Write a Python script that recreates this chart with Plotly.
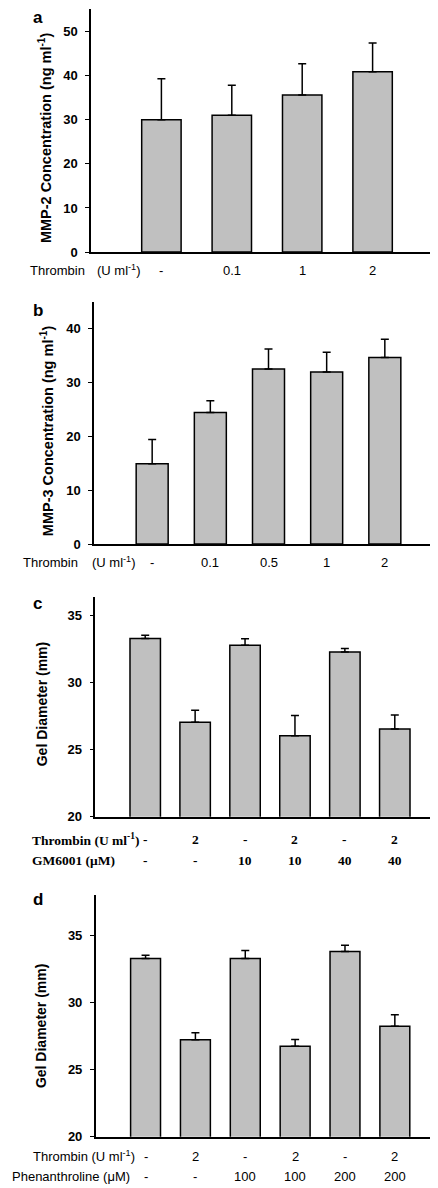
import plotly.graph_objects as go

# ---- data ----
a_labels = ["-", "0.1", "1", "2"]
a_values = [30.0, 31.0, 35.6, 40.9]
a_errors = [9.3, 6.8, 7.1, 6.5]

b_labels = ["-", "0.1", "0.5", "1", "2"]
b_values = [14.9, 24.4, 32.5, 31.9, 34.6]
b_errors = [4.5, 2.2, 3.7, 3.7, 3.4]

c_thrombin = ["-", "2", "-", "2", "-", "2"]
c_gm6001 = ["-", "-", "10", "10", "40", "40"]
c_values = [33.3, 27.05, 32.8, 26.05, 32.3, 26.55]
c_errors = [0.25, 0.9, 0.48, 1.5, 0.25, 1.05]

d_thrombin = ["-", "2", "-", "2", "-", "2"]
d_phen = ["-", "-", "100", "100", "200", "200"]
d_values = [33.28, 27.23, 33.28, 26.74, 33.8, 28.24]
d_errors = [0.25, 0.52, 0.6, 0.5, 0.47, 0.85]

W, H = 438, 1188
SANS = "Liberation Sans, Arial, sans-serif"
SERIF = "Liberation Serif, Times New Roman, serif"
BAR = "#c0c0c0"

def px_x(x):
    return x / W

def px_y(y):
    return 1 - y / H

panels = [
    dict(v=a_values, e=a_errors, xd=(83, 435), yd=(1.5, 245.7), yr=(0, 55), dt=10, bw=0.56),
    dict(v=b_values, e=b_errors, xd=(86, 435), yd=(295.5, 539.7), yr=(0, 45), dt=10, bw=0.55),
    dict(v=c_values, e=c_errors, xd=(87.3, 436.7), yd=(592.9, 814.3), yr=(20, 36.4), dt=5, bw=0.61),
    dict(v=d_values, e=d_errors, xd=(87.7, 436.7), yd=(893.3, 1136.3), yr=(20, 38), dt=5, bw=0.60),
]

fig = go.Figure()
layout = dict(
    width=W, height=H, autosize=False,
    margin=dict(l=0, r=0, t=0, b=0),
    paper_bgcolor="white", plot_bgcolor="white",
    showlegend=False,
    font=dict(family=SANS, color="black"),
)
annotations = []

for i, p in enumerate(panels, start=1):
    n = len(p["v"])
    xs = list(range(1, n + 1))
    xa = "x" if i == 1 else f"x{i}"
    ya = "y" if i == 1 else f"y{i}"
    fig.add_trace(go.Bar(
        x=xs, y=p["v"], xaxis=xa, yaxis=ya, width=p["bw"],
        marker=dict(color=BAR, line=dict(color="black", width=1.5)),
        error_y=dict(type="data", symmetric=False, array=p["e"],
                     arrayminus=[0] * n, color="black", thickness=1.5, width=4),
        hoverinfo="skip",
    ))
    xkey = "xaxis" if i == 1 else f"xaxis{i}"
    ykey = "yaxis" if i == 1 else f"yaxis{i}"
    layout[xkey] = dict(
        domain=[px_x(p["xd"][0]), px_x(p["xd"][1])], range=[0, n + 1],
        anchor=ya, showline=True, linecolor="black", linewidth=1.5,
        showticklabels=False, ticks="", showgrid=False, zeroline=False,
        fixedrange=True,
    )
    layout[ykey] = dict(
        domain=[px_y(p["yd"][1]), px_y(p["yd"][0])], range=list(p["yr"]),
        anchor=xa, showline=True, linecolor="black", linewidth=1.5,
        ticks="outside", ticklen=4, tickwidth=1.2, tickcolor="black",
        dtick=p["dt"], tick0=0, showgrid=False, zeroline=False,
        tickfont=dict(family=SANS, size=13, color="black", weight="bold"),
        ticklabelstandoff=5, fixedrange=True,
    )

def ann(text, x, y, xref="paper", size=13, family=SANS, bold=False, xanchor="center", angle=0):
    annotations.append(dict(
        text=text, x=x, y=y, xref=xref, yref="paper", showarrow=False,
        xanchor=xanchor, yanchor="middle", textangle=angle,
        font=dict(family=family, size=size, color="black", weight="bold" if bold else "normal"),
    ))

# panel letters
ann("a", px_x(30), px_y(10), size=17, bold=True)
ann("b", px_x(30), px_y(305), size=17, bold=True)
ann("c", px_x(29), px_y(600), size=17, bold=True)
ann("d", px_x(30), px_y(898), size=17, bold=True)

# y-axis titles
ann("MMP-2 Concentration (ng ml<sup>-1</sup>)", px_x(37), px_y(131), size=14.5, bold=True, angle=-90)
ann("MMP-3 Concentration (ng ml<sup>-1</sup>)", px_x(39), px_y(426), size=14.5, bold=True, angle=-90)
ann("Gel Diameter (mm)", px_x(34), px_y(701), size=14, bold=True, angle=-90)
ann("Gel Diameter (mm)", px_x(33), px_y(1025), size=14, bold=True, angle=-90)

# panel a category labels
ya_lab = px_y(264)
ann("Thrombin", px_x(20), ya_lab, xanchor="left")
ann("(U ml<sup>-1</sup>)", px_x(87), ya_lab, xanchor="left")
for k, lab in enumerate(a_labels):
    ann(lab, k + 1, ya_lab, xref="x")

# panel b category labels
yb_lab = px_y(558)
ann("Thrombin", px_x(13), yb_lab, xanchor="left")
ann("(U ml<sup>-1</sup>)", px_x(82), yb_lab, xanchor="left")
for k, lab in enumerate(b_labels):
    ann(lab, k + 1, yb_lab, xref="x2")

# panel c labels (serif bold)
yc1, yc2 = px_y(837), px_y(858)
ann("Thrombin (U ml<sup>-1</sup>)", px_x(22), yc1, family=SERIF, size=13.5, bold=True, xanchor="left")
ann("GM6001 (\u03bcM)", px_x(22), yc2, family=SERIF, size=13.5, bold=True, xanchor="left")
for k, lab in enumerate(c_thrombin):
    ann(lab, k + 1, yc1, xref="x3", family=SERIF, size=13.5, bold=True)
for k, lab in enumerate(c_gm6001):
    ann(lab, k + 1, yc2, xref="x3", family=SERIF, size=13.5, bold=True)

# panel d labels
yd1, yd2 = px_y(1156), px_y(1176)
ann("Thrombin (U ml<sup>-1</sup>)", px_x(23), yd1, xanchor="left")
ann("Phenanthroline (\u03bcM)", px_x(2), yd2, xanchor="left")
for k, lab in enumerate(d_thrombin):
    ann(lab, k + 1, yd1, xref="x4")
for k, lab in enumerate(d_phen):
    ann(lab, k + 1, yd2, xref="x4")

layout["annotations"] = annotations
fig.update_layout(**layout)
fig.write_html("out.html")
